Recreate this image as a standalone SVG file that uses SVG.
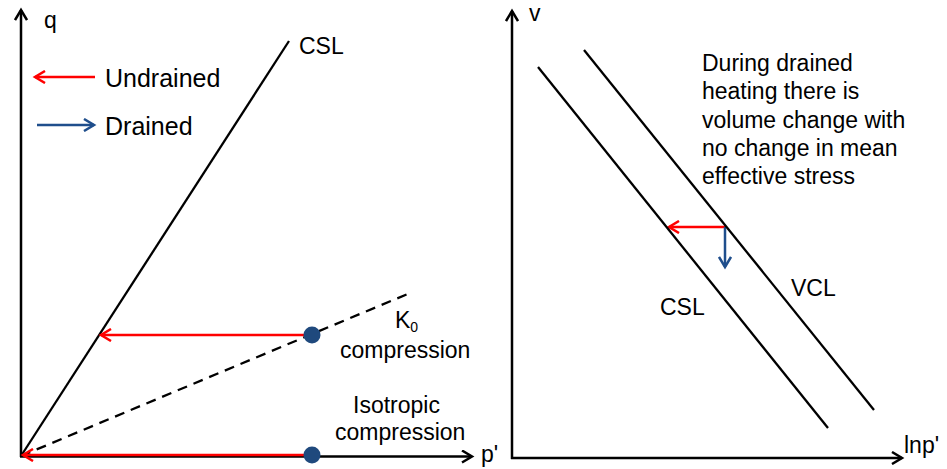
<svg xmlns="http://www.w3.org/2000/svg" width="947" height="469" viewBox="0 0 947 469">
<style>
text{font-family:"Liberation Sans",Arial,sans-serif;font-size:23px;fill:#000}
.leg{font-size:25px}
.ax{stroke:#000;stroke-width:2.5;fill:none}
.ln{stroke:#000;stroke-width:2.3;fill:none}
.dash{stroke:#000;stroke-width:2.3;fill:none;stroke-dasharray:10,7}
.red{stroke:#FF0000;stroke-width:2.5;fill:none}
.blue{stroke:#1F4E8C;stroke-width:2.5;fill:none}
.dot{fill:#1F497D}
</style>
<defs>
<marker id="ahk" markerWidth="14" markerHeight="14" refX="11" refY="7" orient="auto" markerUnits="userSpaceOnUse"><path d="M1,1 L11,7 L1,13" fill="none" stroke="#000" stroke-width="2.5"/></marker>
<marker id="ahr" markerWidth="14" markerHeight="14" refX="11" refY="7" orient="auto" markerUnits="userSpaceOnUse"><path d="M1,1 L11,7 L1,13" fill="none" stroke="#FF0000" stroke-width="2.5"/></marker>
<marker id="ahb" markerWidth="14" markerHeight="14" refX="11" refY="7" orient="auto" markerUnits="userSpaceOnUse"><path d="M1,1 L11,7 L1,13" fill="none" stroke="#1F4E8C" stroke-width="2.5"/></marker>
</defs>
<g id="left-plot">
<g id="left-axes">
<line class="ax" x1="21" y1="457" x2="21" y2="10" marker-end="url(#ahk)"/>
<line class="ax" x1="20" y1="456.5" x2="472" y2="456.5" marker-end="url(#ahk)"/>
<text x="44" y="28">q</text>
<text x="481" y="462">p'</text>
</g>
<g id="left-csl">
<line class="ln" x1="21" y1="456" x2="289" y2="41"/>
<text x="299" y="54">CSL</text>
</g>
<g id="k0-line">
<line class="dash" x1="21" y1="456" x2="410" y2="293"/>
<text x="395" y="328">K<tspan font-size="14" dy="4">0</tspan></text>
<text x="340" y="358">compression</text>
</g>
<g id="iso-label">
<text x="353" y="413">Isotropic</text>
<text x="335" y="440">compression</text>
</g>
<g id="legend">
<line class="red" x1="95" y1="77" x2="35" y2="77" marker-end="url(#ahr)"/>
<text class="leg" x="105" y="87">Undrained</text>
<line class="blue" x1="37" y1="125" x2="94" y2="125" marker-end="url(#ahb)"/>
<text class="leg" x="105" y="135">Drained</text>
</g>
</g>
<g id="connectors">
<line class="red" x1="310" y1="335" x2="101" y2="335" marker-end="url(#ahr)"/>
<line class="red" x1="310" y1="455" x2="23" y2="455" marker-end="url(#ahr)"/>
<line class="red" x1="725" y1="227" x2="669" y2="227" marker-end="url(#ahr)"/>
<line class="blue" x1="725" y1="227" x2="725" y2="267" marker-end="url(#ahb)"/>
</g>
<g id="k0-point"><circle class="dot" cx="312" cy="335" r="8.5"/></g>
<g id="iso-point"><circle class="dot" cx="312" cy="455" r="8.5"/></g>
<g id="right-plot">
<g id="right-axes">
<line class="ax" x1="512" y1="459" x2="512" y2="11" marker-end="url(#ahk)"/>
<line class="ax" x1="511" y1="458" x2="902" y2="458" marker-end="url(#ahk)"/>
<text x="529" y="21">v</text>
<text x="904" y="453">lnp'</text>
</g>
<g id="right-csl">
<line class="ln" x1="538" y1="67" x2="828" y2="428"/>
<text x="660" y="315">CSL</text>
</g>
<g id="vcl">
<line class="ln" x1="584" y1="50" x2="874" y2="410"/>
<text x="791" y="296">VCL</text>
</g>
<g id="note">
<text x="702" y="71">During drained</text>
<text x="702" y="99">heating there is</text>
<text x="702" y="128">volume change with</text>
<text x="702" y="156">no change in mean</text>
<text x="702" y="184">effective stress</text>
</g>
</g>
</svg>
